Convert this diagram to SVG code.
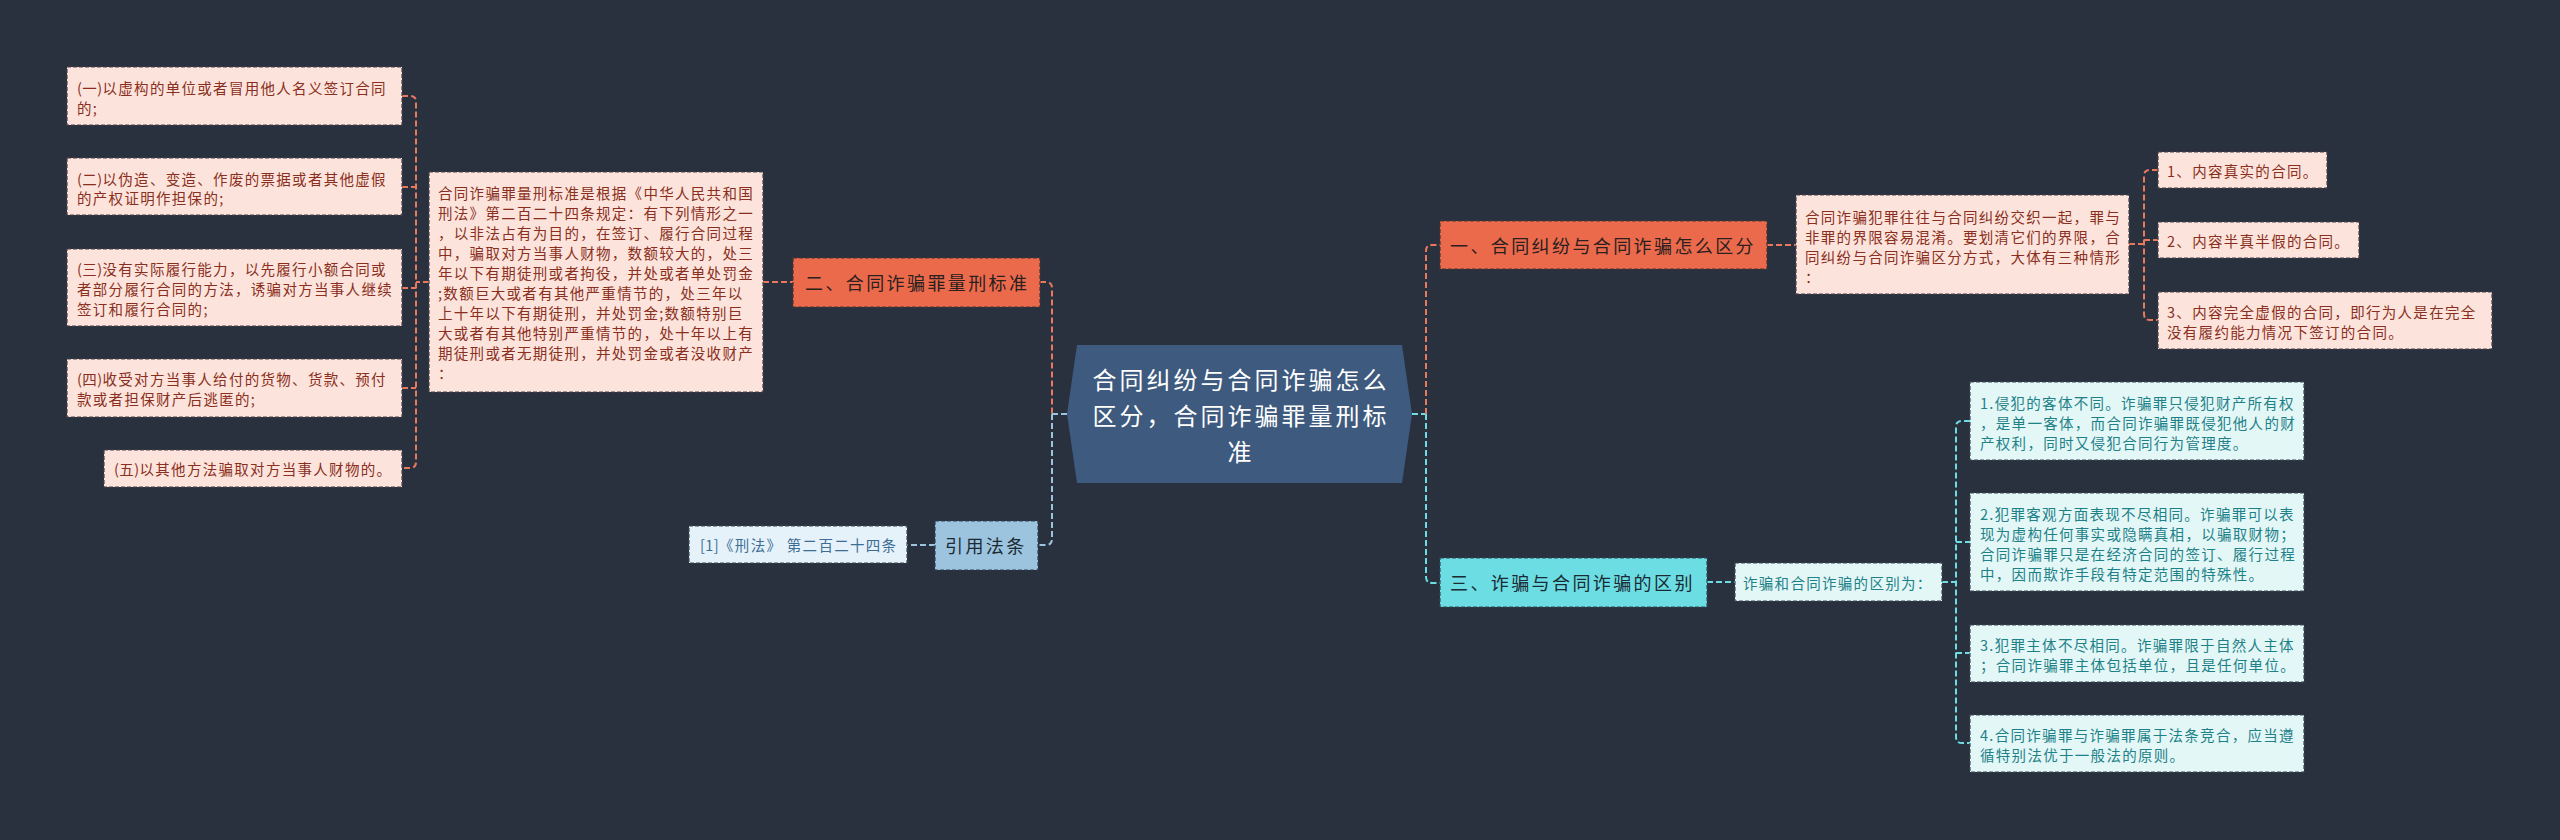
<svg xmlns="http://www.w3.org/2000/svg" width="2560" height="840" viewBox="0 0 2560 840">
<style>
text{font-family:"Noto Sans CJK SC","Noto Sans",sans-serif;dominant-baseline:central}
.bg{fill:#29313f}
.leafP{fill:#fce4dd;stroke:#4a4048;stroke-width:1.2;stroke-dasharray:4 2}
.leafC{fill:#e3f7f7;stroke:#3c4a55;stroke-width:1.2;stroke-dasharray:4 2}
.leafB{fill:#e6f2f9;stroke:#3c4a55;stroke-width:1.2;stroke-dasharray:4 2}
.nodeO{fill:#ec6a4c;stroke:#4a3530;stroke-width:1.2;stroke-dasharray:4 2}
.nodeC{fill:#6bdde3;stroke:#2f4a55;stroke-width:1.2;stroke-dasharray:4 2}
.nodeB{fill:#9cc4de;stroke:#2f4152;stroke-width:1.2;stroke-dasharray:4 2}
.tP{font-size:14.5px;letter-spacing:1.3px;fill:#8a2f20}
.tC{font-size:14.5px;letter-spacing:1.3px;fill:#1f8188}
.tB{font-size:14.5px;letter-spacing:1.3px;fill:#3d6d95}
.tN{font-size:18px;letter-spacing:2.4px;fill:#2a2020}
.tNC{font-size:18px;letter-spacing:2.4px;fill:#1b2a33}
.tCenter{font-size:24px;letter-spacing:3px;fill:#ffffff;text-anchor:middle}
.np{letter-spacing:0.4px}
.cO{fill:none;stroke:#e9785d;stroke-width:2;stroke-dasharray:6 3}
.cC{fill:none;stroke:#6bdde3;stroke-width:2;stroke-dasharray:6 3}
.cB{fill:none;stroke:#9cc4de;stroke-width:2;stroke-dasharray:6 3}
</style>
<rect class="bg" x="0" y="0" width="2560" height="840"/>

<g id="connectors">
  <path class="cO" d="M402 96 H410 Q416 96 416 102 V462 Q416 468 410 468 H402 M402 187 H416 M402 288 H416 M402 388 H416 M429 282 H416"/>
  <path class="cO" d="M763 282 H793"/>
  <path class="cO" d="M1040 282 H1046 Q1052 282 1052 288 V414"/>
  <path class="cB" d="M1052 414 V539 Q1052 545 1046 545 H1038"/>
  <path class="cB" d="M1067 414 H1052"/>
  <path class="cB" d="M935 545 H907"/>
  <path class="cC" d="M1412 414 H1426"/>
  <path class="cO" d="M1426 414 V251 Q1426 245 1432 245 H1440"/>
  <path class="cC" d="M1426 414 V577 Q1426 583 1432 583 H1440"/>
  <path class="cO" d="M1767 245 H1796"/>
  <path class="cO" d="M2129 244 H2144 M2158 170 H2150 Q2144 170 2144 176 V314 Q2144 320 2150 320 H2158 M2144 240 H2158"/>
  <path class="cC" d="M1707 582 H1735"/>
  <path class="cC" d="M1942 582 H1956 M1970 421 H1962 Q1956 421 1956 427 V737 Q1956 743 1962 743 H1970 M1956 542 H1970 M1956 653 H1970"/>
</g>

<g id="center">
  <polygon points="1077,345 1402,345 1412,414 1402,483 1077,483 1067,414" fill="#3e5a7e"/>
  <text class="tCenter" x="1241" y="378">合同纠纷与合同诈骗怎么</text>
  <text class="tCenter" x="1241" y="414">区分，合同诈骗罪量刑标</text>
  <text class="tCenter" x="1241" y="450">准</text>
</g>

<g id="node-l1">
  <rect class="leafP" x="67" y="67" width="335" height="58"/>
  <text class="tP" x="77" y="87"><tspan class="np">(一)</tspan>以虚构的单位或者冒用他人名义签订合同</text>
  <text class="tP" x="77" y="107">的;</text>
</g>
<g id="node-l2">
  <rect class="leafP" x="67" y="158" width="335" height="57"/>
  <text class="tP" x="77" y="178"><tspan class="np">(二)</tspan>以伪造、变造、作废的票据或者其他虚假</text>
  <text class="tP" x="77" y="197">的产权证明作担保的;</text>
</g>
<g id="node-l3">
  <rect class="leafP" x="67" y="249" width="335" height="77"/>
  <text class="tP" x="77" y="268"><tspan class="np">(三)</tspan>没有实际履行能力，以先履行小额合同或</text>
  <text class="tP" x="77" y="288">者部分履行合同的方法，诱骗对方当事人继续</text>
  <text class="tP" x="77" y="308">签订和履行合同的;</text>
</g>
<g id="node-l4">
  <rect class="leafP" x="67" y="359" width="335" height="58"/>
  <text class="tP" x="77" y="378"><tspan class="np">(四)</tspan>收受对方当事人给付的货物、货款、预付</text>
  <text class="tP" x="77" y="398">款或者担保财产后逃匿的;</text>
</g>
<g id="node-l5">
  <rect class="leafP" x="104" y="450" width="298" height="37"/>
  <text class="tP" x="114" y="468"><tspan class="np">(五)</tspan>以其他方法骗取对方当事人财物的。</text>
</g>

<g id="node-bigtext">
  <rect class="leafP" x="429" y="172" width="334" height="220"/>
  <text class="tP" x="438" y="192">合同诈骗罪量刑标准是根据《中华人民共和国</text>
  <text class="tP" x="438" y="212">刑法》第二百二十四条规定：有下列情形之一</text>
  <text class="tP" x="438" y="232">，以非法占有为目的，在签订、履行合同过程</text>
  <text class="tP" x="438" y="252">中，骗取对方当事人财物，数额较大的，处三</text>
  <text class="tP" x="438" y="272">年以下有期徒刑或者拘役，并处或者单处罚金</text>
  <text class="tP" x="438" y="292">;数额巨大或者有其他严重情节的，处三年以</text>
  <text class="tP" x="438" y="312">上十年以下有期徒刑，并处罚金;数额特别巨</text>
  <text class="tP" x="438" y="332">大或者有其他特别严重情节的，处十年以上有</text>
  <text class="tP" x="438" y="352">期徒刑或者无期徒刑，并处罚金或者没收财产</text>
  <text class="tP" x="438" y="372">：</text>
</g>

<g id="node-two">
  <rect class="nodeO" x="793" y="258" width="247" height="49"/>
  <text class="tN" x="805" y="282">二、合同诈骗罪量刑标准</text>
</g>

<g id="node-cite">
  <rect class="nodeB" x="935" y="521" width="103" height="49"/>
  <text class="tNC" x="945" y="545">引用法条</text>
</g>
<g id="node-cite-leaf">
  <rect class="leafB" x="689" y="526" width="218" height="37"/>
  <text class="tB" x="700" y="544"><tspan class="np">[1]</tspan>《刑法》 第二百二十四条</text>
</g>

<g id="node-one">
  <rect class="nodeO" x="1440" y="221" width="327" height="48"/>
  <text class="tN" x="1450" y="245">一、合同纠纷与合同诈骗怎么区分</text>
</g>
<g id="node-one-text">
  <rect class="leafP" x="1796" y="195" width="333" height="99"/>
  <text class="tP" x="1805" y="216">合同诈骗犯罪往往与合同纠纷交织一起，罪与</text>
  <text class="tP" x="1805" y="236">非罪的界限容易混淆。要划清它们的界限，合</text>
  <text class="tP" x="1805" y="256">同纠纷与合同诈骗区分方式，大体有三种情形</text>
  <text class="tP" x="1805" y="276">：</text>
</g>
<g id="node-r1">
  <rect class="leafP" x="2158" y="152" width="169" height="36"/>
  <text class="tP" x="2167" y="170">1、内容真实的合同。</text>
</g>
<g id="node-r2">
  <rect class="leafP" x="2158" y="222" width="201" height="36"/>
  <text class="tP" x="2167" y="240">2、内容半真半假的合同。</text>
</g>
<g id="node-r3">
  <rect class="leafP" x="2158" y="292" width="334" height="57"/>
  <text class="tP" x="2167" y="311">3、内容完全虚假的合同，即行为人是在完全</text>
  <text class="tP" x="2167" y="331">没有履约能力情况下签订的合同。</text>
</g>

<g id="node-three">
  <rect class="nodeC" x="1440" y="558" width="267" height="49"/>
  <text class="tNC" x="1450" y="582">三、诈骗与合同诈骗的区别</text>
</g>
<g id="node-three-text">
  <rect class="leafC" x="1735" y="563" width="207" height="38"/>
  <text class="tC" x="1743" y="582">诈骗和合同诈骗的区别为：</text>
</g>
<g id="node-c1">
  <rect class="leafC" x="1970" y="382" width="334" height="78"/>
  <text class="tC" x="1980" y="402">1.侵犯的客体不同。诈骗罪只侵犯财产所有权</text>
  <text class="tC" x="1980" y="422">，是单一客体，而合同诈骗罪既侵犯他人的财</text>
  <text class="tC" x="1980" y="442">产权利，同时又侵犯合同行为管理度。</text>
</g>
<g id="node-c2">
  <rect class="leafC" x="1970" y="493" width="334" height="98"/>
  <text class="tC" x="1980" y="513">2.犯罪客观方面表现不尽相同。诈骗罪可以表</text>
  <text class="tC" x="1980" y="533">现为虚构任何事实或隐瞒真相，以骗取财物；</text>
  <text class="tC" x="1980" y="553">合同诈骗罪只是在经济合同的签订、履行过程</text>
  <text class="tC" x="1980" y="573">中，因而欺诈手段有特定范围的特殊性。</text>
</g>
<g id="node-c3">
  <rect class="leafC" x="1970" y="625" width="334" height="57"/>
  <text class="tC" x="1980" y="644">3.犯罪主体不尽相同。诈骗罪限于自然人主体</text>
  <text class="tC" x="1980" y="664">；合同诈骗罪主体包括单位，且是任何单位。</text>
</g>
<g id="node-c4">
  <rect class="leafC" x="1970" y="715" width="334" height="57"/>
  <text class="tC" x="1980" y="734">4.合同诈骗罪与诈骗罪属于法条竞合，应当遵</text>
  <text class="tC" x="1980" y="754">循特别法优于一般法的原则。</text>
</g>
</svg>
